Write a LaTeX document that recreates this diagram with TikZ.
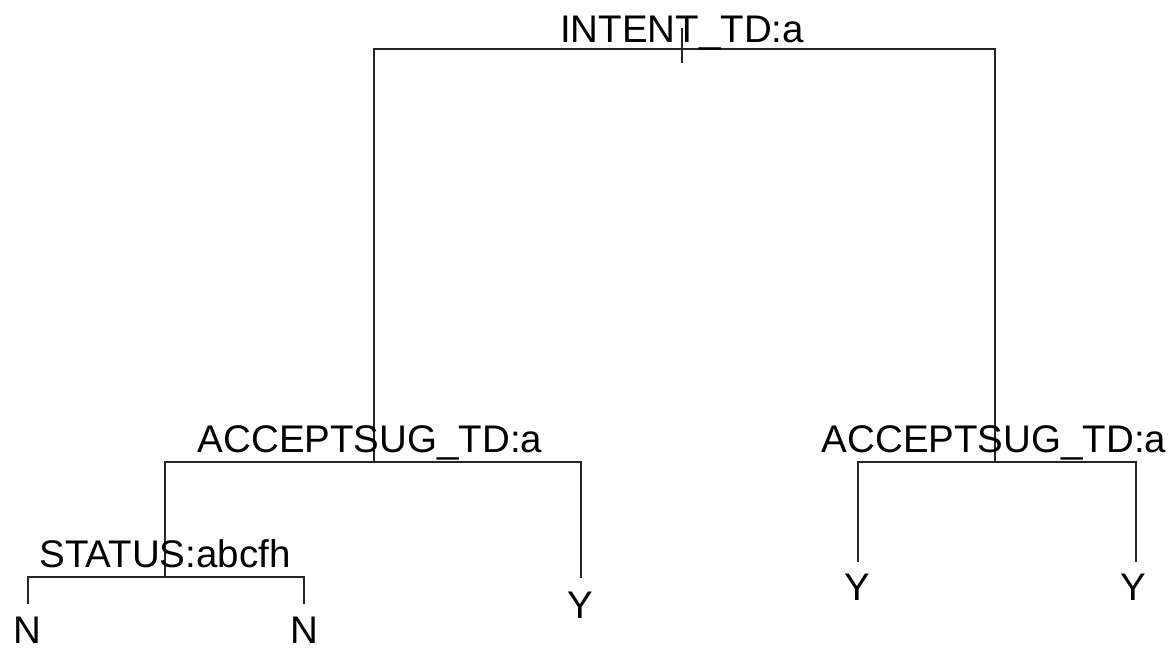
\documentclass[tikz,border=0pt]{standalone}
\usepackage{fontspec}
\setmainfont{Liberation Sans}
\begin{document}
\begin{tikzpicture}[x=1pt,y=-1pt,
  edge/.style={line width=1.9pt, line cap=rect, black!85},
  lab/.style={inner sep=0pt, anchor=base, font=\fontsize{38.5}{42}\selectfont}]
\useasboundingbox (0,0) rectangle (1169,648);
% split points
\coordinate (root) at (682,49);
\coordinate (s2) at (374,462);
\coordinate (s3) at (995,462);
\coordinate (s4) at (165,577);
% leaf ends
\coordinate (l1) at (28,603);
\coordinate (l2) at (304,603);
\coordinate (l3) at (581,577);
\coordinate (l4) at (858,561);
\coordinate (l5) at (1136,561);
% tree edges
\draw[edge] (s2) -- (s2 |- root) -- (s3 |- root) -- (s3);
\draw[edge] (s4) -- (s4 |- s2) -- (l3 |- s2) -- (l3);
\draw[edge] (l4) -- (l4 |- s3) -- (l5 |- s3) -- (l5);
\draw[edge] (l1) -- (l1 |- s4) -- (l2 |- s4) -- (l2);
% root tick
\draw[edge, line cap=butt] ([yshift=-14pt]root) -- ([yshift=21pt]root);
% labels
\node[lab] (t1) at (682,42) {INTENT\_TD:a};
\node[lab] (t2) at (370,452) {ACCEPTSUG\_TD:a};
\node[lab] (t3) at (994,452) {ACCEPTSUG\_TD:a};
\node[lab] (t4) at (165,567) {STATUS:abcfh};
\node[lab] (n1) at (27,643) {N};
\node[lab] (n2) at (304,643) {N};
\node[lab] (y1) at (580,618) {Y};
\node[lab] (y2) at (857,600) {Y};
\node[lab] (y3) at (1133,600) {Y};
\end{tikzpicture}
\end{document}
